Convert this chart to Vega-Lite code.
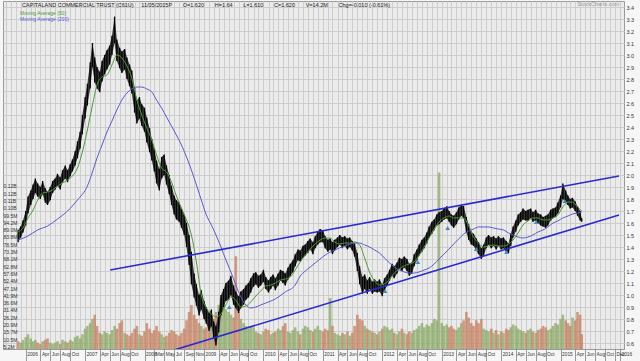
{
  "$schema": "https://vega.github.io/schema/vega-lite/v6.json",
  "width": 621,
  "height": 348,
  "autosize": {"type": "none"},
  "padding": {"left": 3, "top": 1, "right": 16, "bottom": 12},
  "background": "#f6f6f6",
  "config": {
    "view": {"fill": "#ebebeb", "stroke": "#9a9a9a"},
    "font": "Liberation Sans"
  },
  "title": {
    "text": "CAPITALAND COMMERCIAL TRUST (C61U)\u00a0\u00a0\u00a0\u00a0\u00a011/05/2015P\u00a0\u00a0\u00a0\u00a0\u00a0\u00a0\u00a0O=1.620\u00a0\u00a0\u00a0\u00a0\u00a0\u00a0\u00a0H=1.64\u00a0\u00a0\u00a0\u00a0\u00a0\u00a0\u00a0L=1.610\u00a0\u00a0\u00a0\u00a0\u00a0\u00a0\u00a0C=1.620\u00a0\u00a0\u00a0\u00a0\u00a0\u00a0\u00a0V=14.2M\u00a0\u00a0\u00a0\u00a0\u00a0\u00a0\u00a0Chg=-0.010 (-0.61%)",
    "anchor": "start",
    "frame": "group",
    "orient": "top",
    "offset": -2,
    "baseline": "top",
    "dx": 19,
    "dy": 5,
    "fontSize": 5.5,
    "fontWeight": "normal",
    "color": "#222"
  },
  "datasets": {
    "px": [
      {"d":"2005-11-15","h":1.54,"p":1.44,"v":9,"u":0},
      {"d":"2005-12-01","h":1.57,"p":1.48,"v":8,"u":1},
      {"d":"2005-12-15","h":1.62,"p":1.52,"v":10,"u":1},
      {"d":"2006-01-01","h":1.70,"p":1.58,"v":12,"u":1},
      {"d":"2006-01-15","h":1.82,"p":1.68,"v":14,"u":1},
      {"d":"2006-02-01","h":1.87,"p":1.75,"v":11,"u":1},
      {"d":"2006-02-15","h":1.92,"p":1.80,"v":9,"u":1},
      {"d":"2006-03-01","h":1.97,"p":1.85,"v":10,"u":1},
      {"d":"2006-03-15","h":1.93,"p":1.82,"v":8,"u":0},
      {"d":"2006-04-01","h":1.90,"p":1.80,"v":7,"u":0},
      {"d":"2006-04-15","h":1.95,"p":1.84,"v":9,"u":1},
      {"d":"2006-05-01","h":1.89,"p":1.77,"v":10,"u":0},
      {"d":"2006-05-15","h":1.86,"p":1.75,"v":11,"u":0},
      {"d":"2006-06-01","h":1.90,"p":1.79,"v":8,"u":1},
      {"d":"2006-06-15","h":1.95,"p":1.85,"v":7,"u":1},
      {"d":"2006-07-01","h":1.97,"p":1.88,"v":8,"u":1},
      {"d":"2006-07-15","h":2.01,"p":1.91,"v":9,"u":1},
      {"d":"2006-08-01","h":1.98,"p":1.88,"v":7,"u":0},
      {"d":"2006-08-15","h":2.04,"p":1.94,"v":10,"u":1},
      {"d":"2006-09-01","h":2.08,"p":1.97,"v":9,"u":1},
      {"d":"2006-09-15","h":2.04,"p":1.94,"v":8,"u":0},
      {"d":"2006-10-01","h":2.09,"p":1.99,"v":10,"u":1},
      {"d":"2006-10-15","h":2.13,"p":2.03,"v":9,"u":1},
      {"d":"2006-11-01","h":2.20,"p":2.08,"v":12,"u":1},
      {"d":"2006-11-15","h":2.28,"p":2.14,"v":13,"u":1},
      {"d":"2006-12-01","h":2.36,"p":2.22,"v":11,"u":1},
      {"d":"2006-12-15","h":2.50,"p":2.34,"v":14,"u":1},
      {"d":"2007-01-01","h":2.65,"p":2.47,"v":18,"u":1},
      {"d":"2007-01-15","h":2.76,"p":2.58,"v":20,"u":1},
      {"d":"2007-02-01","h":2.94,"p":2.72,"v":22,"u":1},
      {"d":"2007-02-15","h":3.10,"p":2.90,"v":25,"u":1},
      {"d":"2007-03-01","h":2.98,"p":2.77,"v":28,"u":0},
      {"d":"2007-03-15","h":2.90,"p":2.72,"v":20,"u":0},
      {"d":"2007-04-01","h":2.86,"p":2.69,"v":15,"u":0},
      {"d":"2007-04-15","h":2.95,"p":2.78,"v":14,"u":1},
      {"d":"2007-05-01","h":3.00,"p":2.84,"v":16,"u":1},
      {"d":"2007-05-15","h":3.04,"p":2.88,"v":15,"u":1},
      {"d":"2007-06-01","h":3.08,"p":2.92,"v":14,"u":1},
      {"d":"2007-06-15","h":3.16,"p":3.00,"v":17,"u":1},
      {"d":"2007-07-01","h":3.32,"p":3.10,"v":20,"u":1},
      {"d":"2007-07-15","h":3.13,"p":2.95,"v":18,"u":0},
      {"d":"2007-08-01","h":3.06,"p":2.89,"v":22,"u":0},
      {"d":"2007-08-15","h":3.03,"p":2.85,"v":24,"u":0},
      {"d":"2007-09-01","h":3.05,"p":2.88,"v":15,"u":1},
      {"d":"2007-09-15","h":2.98,"p":2.80,"v":14,"u":0},
      {"d":"2007-10-01","h":2.92,"p":2.74,"v":13,"u":0},
      {"d":"2007-10-15","h":2.87,"p":2.68,"v":15,"u":0},
      {"d":"2007-11-01","h":2.73,"p":2.52,"v":18,"u":0},
      {"d":"2007-11-15","h":2.62,"p":2.43,"v":20,"u":0},
      {"d":"2007-12-01","h":2.65,"p":2.47,"v":14,"u":1},
      {"d":"2007-12-15","h":2.59,"p":2.41,"v":13,"u":0},
      {"d":"2008-01-01","h":2.56,"p":2.36,"v":16,"u":0},
      {"d":"2008-01-15","h":2.48,"p":2.27,"v":22,"u":0},
      {"d":"2008-02-01","h":2.39,"p":2.19,"v":18,"u":0},
      {"d":"2008-02-15","h":2.30,"p":2.12,"v":15,"u":0},
      {"d":"2008-03-01","h":2.22,"p":2.03,"v":17,"u":0},
      {"d":"2008-03-15","h":2.12,"p":1.93,"v":20,"u":0},
      {"d":"2008-04-01","h":2.05,"p":1.87,"v":16,"u":0},
      {"d":"2008-04-15","h":2.15,"p":1.97,"v":14,"u":1},
      {"d":"2008-05-01","h":2.17,"p":2.00,"v":12,"u":1},
      {"d":"2008-05-15","h":2.08,"p":1.92,"v":13,"u":0},
      {"d":"2008-06-01","h":2.00,"p":1.84,"v":15,"u":0},
      {"d":"2008-06-15","h":1.91,"p":1.75,"v":17,"u":0},
      {"d":"2008-07-01","h":1.83,"p":1.67,"v":16,"u":0},
      {"d":"2008-07-15","h":1.79,"p":1.63,"v":14,"u":0},
      {"d":"2008-08-01","h":1.77,"p":1.61,"v":13,"u":0},
      {"d":"2008-08-15","h":1.72,"p":1.56,"v":15,"u":0},
      {"d":"2008-09-01","h":1.67,"p":1.50,"v":18,"u":0},
      {"d":"2008-09-15","h":1.60,"p":1.40,"v":24,"u":0},
      {"d":"2008-10-01","h":1.50,"p":1.25,"v":30,"u":0},
      {"d":"2008-10-15","h":1.36,"p":1.09,"v":35,"u":0},
      {"d":"2008-11-01","h":1.18,"p":0.98,"v":28,"u":0},
      {"d":"2008-11-15","h":1.09,"p":0.91,"v":25,"u":0},
      {"d":"2008-12-01","h":1.00,"p":0.83,"v":22,"u":0},
      {"d":"2008-12-15","h":1.04,"p":0.88,"v":20,"u":1},
      {"d":"2009-01-01","h":0.95,"p":0.80,"v":18,"u":0},
      {"d":"2009-01-15","h":0.90,"p":0.76,"v":19,"u":0},
      {"d":"2009-02-01","h":0.85,"p":0.70,"v":22,"u":0},
      {"d":"2009-02-15","h":0.88,"p":0.74,"v":20,"u":1},
      {"d":"2009-03-01","h":0.78,"p":0.64,"v":25,"u":0},
      {"d":"2009-03-15","h":0.74,"p":0.58,"v":30,"u":0},
      {"d":"2009-04-01","h":0.86,"p":0.69,"v":35,"u":1},
      {"d":"2009-04-15","h":1.00,"p":0.83,"v":40,"u":1},
      {"d":"2009-05-01","h":1.05,"p":0.90,"v":38,"u":1},
      {"d":"2009-05-15","h":1.10,"p":0.95,"v":32,"u":1},
      {"d":"2009-06-01","h":1.12,"p":0.96,"v":30,"u":1},
      {"d":"2009-06-15","h":1.16,"p":1.00,"v":28,"u":1},
      {"d":"2009-07-01","h":1.08,"p":0.92,"v":26,"u":0},
      {"d":"2009-07-15","h":1.03,"p":0.89,"v":70,"u":0},
      {"d":"2009-08-01","h":0.99,"p":0.85,"v":30,"u":0},
      {"d":"2009-08-15","h":1.03,"p":0.89,"v":25,"u":1},
      {"d":"2009-09-01","h":1.05,"p":0.92,"v":22,"u":1},
      {"d":"2009-09-15","h":1.08,"p":0.96,"v":20,"u":1},
      {"d":"2009-10-01","h":1.10,"p":0.98,"v":18,"u":1},
      {"d":"2009-10-15","h":1.14,"p":1.02,"v":20,"u":1},
      {"d":"2009-11-01","h":1.18,"p":1.07,"v":19,"u":1},
      {"d":"2009-11-15","h":1.19,"p":1.09,"v":16,"u":1},
      {"d":"2009-12-01","h":1.16,"p":1.06,"v":15,"u":0},
      {"d":"2009-12-15","h":1.17,"p":1.08,"v":14,"u":1},
      {"d":"2010-01-01","h":1.21,"p":1.11,"v":16,"u":1},
      {"d":"2010-01-15","h":1.15,"p":1.05,"v":18,"u":0},
      {"d":"2010-02-01","h":1.12,"p":1.02,"v":17,"u":0},
      {"d":"2010-02-15","h":1.15,"p":1.05,"v":14,"u":1},
      {"d":"2010-03-01","h":1.17,"p":1.08,"v":15,"u":1},
      {"d":"2010-03-15","h":1.14,"p":1.04,"v":16,"u":0},
      {"d":"2010-04-01","h":1.18,"p":1.08,"v":18,"u":1},
      {"d":"2010-04-15","h":1.21,"p":1.12,"v":17,"u":1},
      {"d":"2010-05-01","h":1.20,"p":1.10,"v":20,"u":0},
      {"d":"2010-05-15","h":1.18,"p":1.08,"v":22,"u":0},
      {"d":"2010-06-01","h":1.23,"p":1.13,"v":16,"u":1},
      {"d":"2010-06-15","h":1.26,"p":1.16,"v":15,"u":1},
      {"d":"2010-07-01","h":1.29,"p":1.19,"v":17,"u":1},
      {"d":"2010-07-15","h":1.34,"p":1.24,"v":19,"u":1},
      {"d":"2010-08-01","h":1.38,"p":1.29,"v":16,"u":1},
      {"d":"2010-08-15","h":1.37,"p":1.28,"v":14,"u":0},
      {"d":"2010-09-01","h":1.41,"p":1.31,"v":18,"u":1},
      {"d":"2010-09-15","h":1.42,"p":1.33,"v":20,"u":1},
      {"d":"2010-10-01","h":1.45,"p":1.35,"v":19,"u":1},
      {"d":"2010-10-15","h":1.47,"p":1.38,"v":17,"u":1},
      {"d":"2010-11-01","h":1.44,"p":1.34,"v":16,"u":0},
      {"d":"2010-11-15","h":1.49,"p":1.39,"v":18,"u":1},
      {"d":"2010-12-01","h":1.53,"p":1.42,"v":20,"u":1},
      {"d":"2010-12-15","h":1.55,"p":1.44,"v":17,"u":1},
      {"d":"2011-01-01","h":1.54,"p":1.44,"v":16,"u":0},
      {"d":"2011-01-15","h":1.49,"p":1.39,"v":18,"u":0},
      {"d":"2011-02-01","h":1.46,"p":1.36,"v":17,"u":0},
      {"d":"2011-02-15","h":1.47,"p":1.38,"v":40,"u":1},
      {"d":"2011-03-01","h":1.44,"p":1.34,"v":20,"u":0},
      {"d":"2011-03-15","h":1.46,"p":1.37,"v":15,"u":1},
      {"d":"2011-04-01","h":1.48,"p":1.40,"v":14,"u":1},
      {"d":"2011-04-15","h":1.50,"p":1.42,"v":13,"u":1},
      {"d":"2011-05-01","h":1.48,"p":1.39,"v":15,"u":0},
      {"d":"2011-05-15","h":1.49,"p":1.41,"v":14,"u":1},
      {"d":"2011-06-01","h":1.47,"p":1.38,"v":16,"u":0},
      {"d":"2011-06-15","h":1.48,"p":1.40,"v":13,"u":1},
      {"d":"2011-07-01","h":1.45,"p":1.37,"v":15,"u":0},
      {"d":"2011-07-15","h":1.43,"p":1.32,"v":20,"u":0},
      {"d":"2011-08-01","h":1.35,"p":1.20,"v":28,"u":0},
      {"d":"2011-08-15","h":1.24,"p":1.09,"v":25,"u":0},
      {"d":"2011-09-01","h":1.15,"p":1.01,"v":24,"u":0},
      {"d":"2011-09-15","h":1.17,"p":1.05,"v":20,"u":1},
      {"d":"2011-10-01","h":1.12,"p":1.01,"v":18,"u":0},
      {"d":"2011-10-15","h":1.15,"p":1.05,"v":17,"u":1},
      {"d":"2011-11-01","h":1.11,"p":1.01,"v":16,"u":0},
      {"d":"2011-11-15","h":1.13,"p":1.03,"v":15,"u":1},
      {"d":"2011-12-01","h":1.11,"p":1.02,"v":14,"u":0},
      {"d":"2011-12-15","h":1.13,"p":1.03,"v":16,"u":1},
      {"d":"2012-01-01","h":1.09,"p":0.99,"v":18,"u":0},
      {"d":"2012-01-15","h":1.14,"p":1.04,"v":20,"u":1},
      {"d":"2012-02-01","h":1.17,"p":1.08,"v":19,"u":1},
      {"d":"2012-02-15","h":1.21,"p":1.12,"v":17,"u":1},
      {"d":"2012-03-01","h":1.26,"p":1.16,"v":18,"u":1},
      {"d":"2012-03-15","h":1.24,"p":1.14,"v":15,"u":0},
      {"d":"2012-04-01","h":1.27,"p":1.18,"v":14,"u":1},
      {"d":"2012-04-15","h":1.31,"p":1.22,"v":16,"u":1},
      {"d":"2012-05-01","h":1.30,"p":1.20,"v":18,"u":0},
      {"d":"2012-05-15","h":1.32,"p":1.23,"v":15,"u":1},
      {"d":"2012-06-01","h":1.30,"p":1.20,"v":14,"u":0},
      {"d":"2012-06-15","h":1.26,"p":1.16,"v":16,"u":0},
      {"d":"2012-07-01","h":1.27,"p":1.18,"v":15,"u":1},
      {"d":"2012-07-15","h":1.34,"p":1.24,"v":17,"u":1},
      {"d":"2012-08-01","h":1.38,"p":1.29,"v":18,"u":1},
      {"d":"2012-08-15","h":1.42,"p":1.33,"v":20,"u":1},
      {"d":"2012-09-01","h":1.46,"p":1.36,"v":22,"u":1},
      {"d":"2012-09-15","h":1.48,"p":1.39,"v":19,"u":1},
      {"d":"2012-10-01","h":1.52,"p":1.43,"v":21,"u":1},
      {"d":"2012-10-15","h":1.57,"p":1.48,"v":20,"u":1},
      {"d":"2012-11-01","h":1.61,"p":1.51,"v":22,"u":1},
      {"d":"2012-11-15","h":1.63,"p":1.54,"v":25,"u":1},
      {"d":"2012-12-01","h":1.67,"p":1.58,"v":24,"u":1},
      {"d":"2012-12-15","h":1.69,"p":1.59,"v":130,"u":1},
      {"d":"2013-01-01","h":1.70,"p":1.61,"v":22,"u":1},
      {"d":"2013-01-15","h":1.72,"p":1.63,"v":20,"u":1},
      {"d":"2013-02-01","h":1.74,"p":1.64,"v":21,"u":1},
      {"d":"2013-02-15","h":1.70,"p":1.61,"v":19,"u":0},
      {"d":"2013-03-01","h":1.67,"p":1.58,"v":20,"u":0},
      {"d":"2013-03-15","h":1.66,"p":1.56,"v":18,"u":0},
      {"d":"2013-04-01","h":1.69,"p":1.59,"v":17,"u":1},
      {"d":"2013-04-15","h":1.73,"p":1.63,"v":19,"u":1},
      {"d":"2013-05-01","h":1.75,"p":1.66,"v":22,"u":1},
      {"d":"2013-05-15","h":1.74,"p":1.64,"v":24,"u":0},
      {"d":"2013-06-01","h":1.65,"p":1.52,"v":30,"u":0},
      {"d":"2013-06-15","h":1.59,"p":1.46,"v":26,"u":0},
      {"d":"2013-07-01","h":1.53,"p":1.42,"v":22,"u":0},
      {"d":"2013-07-15","h":1.51,"p":1.41,"v":20,"u":0},
      {"d":"2013-08-01","h":1.47,"p":1.37,"v":24,"u":0},
      {"d":"2013-08-15","h":1.44,"p":1.34,"v":22,"u":0},
      {"d":"2013-09-01","h":1.39,"p":1.30,"v":25,"u":0},
      {"d":"2013-09-15","h":1.42,"p":1.33,"v":18,"u":1},
      {"d":"2013-10-01","h":1.48,"p":1.39,"v":17,"u":1},
      {"d":"2013-10-15","h":1.50,"p":1.42,"v":16,"u":1},
      {"d":"2013-11-01","h":1.48,"p":1.39,"v":18,"u":0},
      {"d":"2013-11-15","h":1.49,"p":1.41,"v":15,"u":1},
      {"d":"2013-12-01","h":1.47,"p":1.38,"v":17,"u":0},
      {"d":"2013-12-15","h":1.49,"p":1.41,"v":14,"u":1},
      {"d":"2014-01-01","h":1.47,"p":1.38,"v":16,"u":0},
      {"d":"2014-01-15","h":1.48,"p":1.39,"v":15,"u":1},
      {"d":"2014-02-01","h":1.45,"p":1.36,"v":18,"u":0},
      {"d":"2014-02-15","h":1.43,"p":1.35,"v":17,"u":0},
      {"d":"2014-03-01","h":1.51,"p":1.41,"v":19,"u":1},
      {"d":"2014-03-15","h":1.57,"p":1.48,"v":21,"u":1},
      {"d":"2014-04-01","h":1.62,"p":1.53,"v":20,"u":1},
      {"d":"2014-04-15","h":1.67,"p":1.58,"v":18,"u":1},
      {"d":"2014-05-01","h":1.69,"p":1.61,"v":17,"u":1},
      {"d":"2014-05-15","h":1.72,"p":1.63,"v":16,"u":1},
      {"d":"2014-06-01","h":1.70,"p":1.62,"v":15,"u":0},
      {"d":"2014-06-15","h":1.71,"p":1.62,"v":17,"u":1},
      {"d":"2014-07-01","h":1.72,"p":1.64,"v":18,"u":1},
      {"d":"2014-07-15","h":1.69,"p":1.61,"v":16,"u":0},
      {"d":"2014-08-01","h":1.71,"p":1.62,"v":15,"u":1},
      {"d":"2014-08-15","h":1.68,"p":1.60,"v":17,"u":0},
      {"d":"2014-09-01","h":1.67,"p":1.58,"v":18,"u":0},
      {"d":"2014-09-15","h":1.65,"p":1.57,"v":20,"u":0},
      {"d":"2014-10-01","h":1.66,"p":1.56,"v":19,"u":0},
      {"d":"2014-10-15","h":1.67,"p":1.58,"v":17,"u":1},
      {"d":"2014-11-01","h":1.71,"p":1.62,"v":18,"u":1},
      {"d":"2014-11-15","h":1.72,"p":1.64,"v":20,"u":1},
      {"d":"2014-12-01","h":1.73,"p":1.65,"v":22,"u":1},
      {"d":"2014-12-15","h":1.77,"p":1.68,"v":21,"u":1},
      {"d":"2015-01-01","h":1.83,"p":1.73,"v":25,"u":1},
      {"d":"2015-01-15","h":1.93,"p":1.80,"v":28,"u":1},
      {"d":"2015-02-01","h":1.87,"p":1.77,"v":24,"u":0},
      {"d":"2015-02-15","h":1.83,"p":1.75,"v":22,"u":0},
      {"d":"2015-03-01","h":1.80,"p":1.72,"v":20,"u":0},
      {"d":"2015-03-15","h":1.81,"p":1.73,"v":26,"u":1},
      {"d":"2015-04-01","h":1.78,"p":1.70,"v":24,"u":0},
      {"d":"2015-04-15","h":1.74,"p":1.66,"v":30,"u":0},
      {"d":"2015-05-01","h":1.70,"p":1.62,"v":28,"u":0},
      {"d":"2015-05-11","h":1.64,"p":1.61,"v":14,"u":0}
    ],
    "ma": [
      {"d":"2005-11-15","s":"Moving Average (50)","p":1.525},
      {"d":"2005-12-15","s":"Moving Average (50)","p":1.558},
      {"d":"2006-01-15","s":"Moving Average (50)","p":1.642},
      {"d":"2006-02-15","s":"Moving Average (50)","p":1.708},
      {"d":"2006-03-15","s":"Moving Average (50)","p":1.79},
      {"d":"2006-04-15","s":"Moving Average (50)","p":1.85},
      {"d":"2006-05-15","s":"Moving Average (50)","p":1.858},
      {"d":"2006-06-15","s":"Moving Average (50)","p":1.875},
      {"d":"2006-07-15","s":"Moving Average (50)","p":1.908},
      {"d":"2006-08-15","s":"Moving Average (50)","p":1.933},
      {"d":"2006-09-15","s":"Moving Average (50)","p":1.958},
      {"d":"2006-10-15","s":"Moving Average (50)","p":1.992},
      {"d":"2006-11-15","s":"Moving Average (50)","p":2.058},
      {"d":"2006-12-15","s":"Moving Average (50)","p":2.192},
      {"d":"2007-01-15","s":"Moving Average (50)","p":2.375},
      {"d":"2007-02-15","s":"Moving Average (50)","p":2.583},
      {"d":"2007-03-15","s":"Moving Average (50)","p":2.75},
      {"d":"2007-04-15","s":"Moving Average (50)","p":2.817},
      {"d":"2007-05-15","s":"Moving Average (50)","p":2.833},
      {"d":"2007-06-15","s":"Moving Average (50)","p":2.917},
      {"d":"2007-07-15","s":"Moving Average (50)","p":3.0},
      {"d":"2007-08-15","s":"Moving Average (50)","p":2.975},
      {"d":"2007-09-15","s":"Moving Average (50)","p":2.908},
      {"d":"2007-10-15","s":"Moving Average (50)","p":2.808},
      {"d":"2007-11-15","s":"Moving Average (50)","p":2.625},
      {"d":"2007-12-15","s":"Moving Average (50)","p":2.5},
      {"d":"2008-01-15","s":"Moving Average (50)","p":2.392},
      {"d":"2008-02-15","s":"Moving Average (50)","p":2.292},
      {"d":"2008-03-15","s":"Moving Average (50)","p":2.167},
      {"d":"2008-04-15","s":"Moving Average (50)","p":2.058},
      {"d":"2008-05-15","s":"Moving Average (50)","p":2.025},
      {"d":"2008-06-15","s":"Moving Average (50)","p":1.942},
      {"d":"2008-07-15","s":"Moving Average (50)","p":1.825},
      {"d":"2008-08-15","s":"Moving Average (50)","p":1.725},
      {"d":"2008-09-15","s":"Moving Average (50)","p":1.625},
      {"d":"2008-10-15","s":"Moving Average (50)","p":1.5},
      {"d":"2008-11-15","s":"Moving Average (50)","p":1.275},
      {"d":"2008-12-15","s":"Moving Average (50)","p":1.0},
      {"d":"2009-01-15","s":"Moving Average (50)","p":0.892},
      {"d":"2009-02-15","s":"Moving Average (50)","p":0.842},
      {"d":"2009-03-15","s":"Moving Average (50)","p":0.817},
      {"d":"2009-04-15","s":"Moving Average (50)","p":0.842},
      {"d":"2009-05-15","s":"Moving Average (50)","p":0.917},
      {"d":"2009-06-15","s":"Moving Average (50)","p":0.983},
      {"d":"2009-07-15","s":"Moving Average (50)","p":0.958},
      {"d":"2009-08-15","s":"Moving Average (50)","p":0.9},
      {"d":"2009-09-15","s":"Moving Average (50)","p":0.908},
      {"d":"2009-10-15","s":"Moving Average (50)","p":0.942},
      {"d":"2009-11-15","s":"Moving Average (50)","p":0.992},
      {"d":"2009-12-15","s":"Moving Average (50)","p":1.033},
      {"d":"2010-01-15","s":"Moving Average (50)","p":1.075},
      {"d":"2010-02-15","s":"Moving Average (50)","p":1.083},
      {"d":"2010-03-15","s":"Moving Average (50)","p":1.1},
      {"d":"2010-04-15","s":"Moving Average (50)","p":1.125},
      {"d":"2010-05-15","s":"Moving Average (50)","p":1.133},
      {"d":"2010-06-15","s":"Moving Average (50)","p":1.15},
      {"d":"2010-07-15","s":"Moving Average (50)","p":1.208},
      {"d":"2010-08-15","s":"Moving Average (50)","p":1.275},
      {"d":"2010-09-15","s":"Moving Average (50)","p":1.333},
      {"d":"2010-10-15","s":"Moving Average (50)","p":1.383},
      {"d":"2010-11-15","s":"Moving Average (50)","p":1.425},
      {"d":"2010-12-15","s":"Moving Average (50)","p":1.458},
      {"d":"2011-01-15","s":"Moving Average (50)","p":1.475},
      {"d":"2011-02-15","s":"Moving Average (50)","p":1.475},
      {"d":"2011-03-15","s":"Moving Average (50)","p":1.442},
      {"d":"2011-04-15","s":"Moving Average (50)","p":1.425},
      {"d":"2011-05-15","s":"Moving Average (50)","p":1.433},
      {"d":"2011-06-15","s":"Moving Average (50)","p":1.433},
      {"d":"2011-07-15","s":"Moving Average (50)","p":1.442},
      {"d":"2011-08-15","s":"Moving Average (50)","p":1.417},
      {"d":"2011-09-15","s":"Moving Average (50)","p":1.308},
      {"d":"2011-10-15","s":"Moving Average (50)","p":1.192},
      {"d":"2011-11-15","s":"Moving Average (50)","p":1.117},
      {"d":"2011-12-15","s":"Moving Average (50)","p":1.083},
      {"d":"2012-01-15","s":"Moving Average (50)","p":1.092},
      {"d":"2012-02-15","s":"Moving Average (50)","p":1.133},
      {"d":"2012-03-15","s":"Moving Average (50)","p":1.183},
      {"d":"2012-04-15","s":"Moving Average (50)","p":1.217},
      {"d":"2012-05-15","s":"Moving Average (50)","p":1.242},
      {"d":"2012-06-15","s":"Moving Average (50)","p":1.258},
      {"d":"2012-07-15","s":"Moving Average (50)","p":1.275},
      {"d":"2012-08-15","s":"Moving Average (50)","p":1.333},
      {"d":"2012-09-15","s":"Moving Average (50)","p":1.4},
      {"d":"2012-10-15","s":"Moving Average (50)","p":1.475},
      {"d":"2012-11-15","s":"Moving Average (50)","p":1.55},
      {"d":"2012-12-15","s":"Moving Average (50)","p":1.608},
      {"d":"2013-01-15","s":"Moving Average (50)","p":1.642},
      {"d":"2013-02-15","s":"Moving Average (50)","p":1.658},
      {"d":"2013-03-15","s":"Moving Average (50)","p":1.642},
      {"d":"2013-04-15","s":"Moving Average (50)","p":1.642},
      {"d":"2013-05-15","s":"Moving Average (50)","p":1.642},
      {"d":"2013-06-15","s":"Moving Average (50)","p":1.575},
      {"d":"2013-07-15","s":"Moving Average (50)","p":1.483},
      {"d":"2013-08-15","s":"Moving Average (50)","p":1.433},
      {"d":"2013-09-15","s":"Moving Average (50)","p":1.4},
      {"d":"2013-10-15","s":"Moving Average (50)","p":1.408},
      {"d":"2013-11-15","s":"Moving Average (50)","p":1.417},
      {"d":"2013-12-15","s":"Moving Average (50)","p":1.408},
      {"d":"2014-01-15","s":"Moving Average (50)","p":1.408},
      {"d":"2014-02-15","s":"Moving Average (50)","p":1.425},
      {"d":"2014-03-15","s":"Moving Average (50)","p":1.458},
      {"d":"2014-04-15","s":"Moving Average (50)","p":1.517},
      {"d":"2014-05-15","s":"Moving Average (50)","p":1.583},
      {"d":"2014-06-15","s":"Moving Average (50)","p":1.617},
      {"d":"2014-07-15","s":"Moving Average (50)","p":1.642},
      {"d":"2014-08-15","s":"Moving Average (50)","p":1.642},
      {"d":"2014-09-15","s":"Moving Average (50)","p":1.625},
      {"d":"2014-10-15","s":"Moving Average (50)","p":1.625},
      {"d":"2014-11-15","s":"Moving Average (50)","p":1.642},
      {"d":"2014-12-15","s":"Moving Average (50)","p":1.667},
      {"d":"2015-01-15","s":"Moving Average (50)","p":1.733},
      {"d":"2015-02-15","s":"Moving Average (50)","p":1.775},
      {"d":"2015-03-15","s":"Moving Average (50)","p":1.775},
      {"d":"2015-04-15","s":"Moving Average (50)","p":1.733},
      {"d":"2015-05-11","s":"Moving Average (50)","p":1.70},
      {"d":"2005-11-15","s":"Moving Average (200)","p":1.458},
      {"d":"2006-01-15","s":"Moving Average (200)","p":1.492},
      {"d":"2006-03-15","s":"Moving Average (200)","p":1.542},
      {"d":"2006-05-15","s":"Moving Average (200)","p":1.575},
      {"d":"2006-07-15","s":"Moving Average (200)","p":1.633},
      {"d":"2006-09-15","s":"Moving Average (200)","p":1.7},
      {"d":"2006-11-15","s":"Moving Average (200)","p":1.792},
      {"d":"2007-01-15","s":"Moving Average (200)","p":1.908},
      {"d":"2007-02-15","s":"Moving Average (200)","p":2.025},
      {"d":"2007-03-15","s":"Moving Average (200)","p":2.142},
      {"d":"2007-04-15","s":"Moving Average (200)","p":2.25},
      {"d":"2007-05-15","s":"Moving Average (200)","p":2.358},
      {"d":"2007-06-15","s":"Moving Average (200)","p":2.45},
      {"d":"2007-07-15","s":"Moving Average (200)","p":2.542},
      {"d":"2007-08-15","s":"Moving Average (200)","p":2.625},
      {"d":"2007-09-15","s":"Moving Average (200)","p":2.683},
      {"d":"2007-10-15","s":"Moving Average (200)","p":2.717},
      {"d":"2007-11-15","s":"Moving Average (200)","p":2.733},
      {"d":"2007-12-15","s":"Moving Average (200)","p":2.733},
      {"d":"2008-01-15","s":"Moving Average (200)","p":2.717},
      {"d":"2008-02-15","s":"Moving Average (200)","p":2.692},
      {"d":"2008-03-15","s":"Moving Average (200)","p":2.625},
      {"d":"2008-04-15","s":"Moving Average (200)","p":2.558},
      {"d":"2008-05-15","s":"Moving Average (200)","p":2.483},
      {"d":"2008-06-15","s":"Moving Average (200)","p":2.408},
      {"d":"2008-07-15","s":"Moving Average (200)","p":2.333},
      {"d":"2008-08-15","s":"Moving Average (200)","p":2.25},
      {"d":"2008-09-15","s":"Moving Average (200)","p":2.15},
      {"d":"2008-10-15","s":"Moving Average (200)","p":2.042},
      {"d":"2008-11-15","s":"Moving Average (200)","p":1.917},
      {"d":"2008-12-15","s":"Moving Average (200)","p":1.792},
      {"d":"2009-01-15","s":"Moving Average (200)","p":1.667},
      {"d":"2009-02-15","s":"Moving Average (200)","p":1.583},
      {"d":"2009-03-15","s":"Moving Average (200)","p":1.5},
      {"d":"2009-04-15","s":"Moving Average (200)","p":1.4},
      {"d":"2009-05-15","s":"Moving Average (200)","p":1.292},
      {"d":"2009-06-15","s":"Moving Average (200)","p":1.192},
      {"d":"2009-07-15","s":"Moving Average (200)","p":1.083},
      {"d":"2009-08-15","s":"Moving Average (200)","p":0.983},
      {"d":"2009-09-15","s":"Moving Average (200)","p":0.917},
      {"d":"2009-10-15","s":"Moving Average (200)","p":0.892},
      {"d":"2009-11-15","s":"Moving Average (200)","p":0.9},
      {"d":"2009-12-15","s":"Moving Average (200)","p":0.917},
      {"d":"2010-01-15","s":"Moving Average (200)","p":0.933},
      {"d":"2010-03-15","s":"Moving Average (200)","p":0.967},
      {"d":"2010-05-15","s":"Moving Average (200)","p":1.025},
      {"d":"2010-07-15","s":"Moving Average (200)","p":1.083},
      {"d":"2010-08-15","s":"Moving Average (200)","p":1.158},
      {"d":"2010-09-15","s":"Moving Average (200)","p":1.2},
      {"d":"2010-10-15","s":"Moving Average (200)","p":1.233},
      {"d":"2010-11-15","s":"Moving Average (200)","p":1.267},
      {"d":"2010-12-15","s":"Moving Average (200)","p":1.3},
      {"d":"2011-01-15","s":"Moving Average (200)","p":1.333},
      {"d":"2011-03-15","s":"Moving Average (200)","p":1.375},
      {"d":"2011-05-15","s":"Moving Average (200)","p":1.408},
      {"d":"2011-07-15","s":"Moving Average (200)","p":1.433},
      {"d":"2011-08-15","s":"Moving Average (200)","p":1.433},
      {"d":"2011-09-15","s":"Moving Average (200)","p":1.417},
      {"d":"2011-10-15","s":"Moving Average (200)","p":1.4},
      {"d":"2011-11-15","s":"Moving Average (200)","p":1.375},
      {"d":"2011-12-15","s":"Moving Average (200)","p":1.35},
      {"d":"2012-01-15","s":"Moving Average (200)","p":1.308},
      {"d":"2012-02-15","s":"Moving Average (200)","p":1.267},
      {"d":"2012-03-15","s":"Moving Average (200)","p":1.233},
      {"d":"2012-04-15","s":"Moving Average (200)","p":1.208},
      {"d":"2012-05-15","s":"Moving Average (200)","p":1.192},
      {"d":"2012-06-15","s":"Moving Average (200)","p":1.183},
      {"d":"2012-07-15","s":"Moving Average (200)","p":1.183},
      {"d":"2012-08-15","s":"Moving Average (200)","p":1.192},
      {"d":"2012-09-15","s":"Moving Average (200)","p":1.208},
      {"d":"2012-10-15","s":"Moving Average (200)","p":1.225},
      {"d":"2012-11-15","s":"Moving Average (200)","p":1.258},
      {"d":"2012-12-15","s":"Moving Average (200)","p":1.3},
      {"d":"2013-01-15","s":"Moving Average (200)","p":1.342},
      {"d":"2013-02-15","s":"Moving Average (200)","p":1.383},
      {"d":"2013-03-15","s":"Moving Average (200)","p":1.425},
      {"d":"2013-04-15","s":"Moving Average (200)","p":1.467},
      {"d":"2013-05-15","s":"Moving Average (200)","p":1.508},
      {"d":"2013-06-15","s":"Moving Average (200)","p":1.533},
      {"d":"2013-07-15","s":"Moving Average (200)","p":1.55},
      {"d":"2013-08-15","s":"Moving Average (200)","p":1.567},
      {"d":"2013-09-15","s":"Moving Average (200)","p":1.567},
      {"d":"2013-10-15","s":"Moving Average (200)","p":1.567},
      {"d":"2013-11-15","s":"Moving Average (200)","p":1.558},
      {"d":"2013-12-15","s":"Moving Average (200)","p":1.55},
      {"d":"2014-01-15","s":"Moving Average (200)","p":1.542},
      {"d":"2014-02-15","s":"Moving Average (200)","p":1.517},
      {"d":"2014-03-15","s":"Moving Average (200)","p":1.5},
      {"d":"2014-04-15","s":"Moving Average (200)","p":1.483},
      {"d":"2014-05-15","s":"Moving Average (200)","p":1.475},
      {"d":"2014-06-15","s":"Moving Average (200)","p":1.483},
      {"d":"2014-07-15","s":"Moving Average (200)","p":1.5},
      {"d":"2014-08-15","s":"Moving Average (200)","p":1.525},
      {"d":"2014-09-15","s":"Moving Average (200)","p":1.542},
      {"d":"2014-10-15","s":"Moving Average (200)","p":1.567},
      {"d":"2014-11-15","s":"Moving Average (200)","p":1.6},
      {"d":"2014-12-15","s":"Moving Average (200)","p":1.617},
      {"d":"2015-01-15","s":"Moving Average (200)","p":1.642},
      {"d":"2015-02-15","s":"Moving Average (200)","p":1.658},
      {"d":"2015-03-15","s":"Moving Average (200)","p":1.675},
      {"d":"2015-04-15","s":"Moving Average (200)","p":1.683},
      {"d":"2015-05-11","s":"Moving Average (200)","p":1.692}
    ],
    "tl": [
      {"d":"2007-06-04","k":"upper","p":1.208},
      {"d":"2015-12-26","k":"upper","p":1.992},
      {"d":"2008-07-01","k":"lower","p":0.542},
      {"d":"2015-12-26","k":"lower","p":1.667}
    ],
    "mk": [
      {"d":"2009-06-05","p":0.90},
      {"d":"2012-01-18","p":1.033},
      {"d":"2012-08-07","p":1.275},
      {"d":"2013-02-06","p":1.558},
      {"d":"2013-07-31","p":1.383},
      {"d":"2014-02-03","p":1.358},
      {"d":"2014-08-04","p":1.608},
      {"d":"2015-01-27","p":1.783}
    ],
    "wm": [{"d":"2015-08-20","p":3.425,"t":"StockCharts.com"}]
  },
  "encoding": {
    "x": {
      "field": "d", "type": "temporal",
      "scale": {"domain": [{"year": 2005, "month": 9, "date": 14}, {"year": 2015, "month": 12, "date": 26}]},
      "axis": {
        "orient": "bottom", "title": null,
        "grid": true, "gridColor": "#cdcdcd", "gridWidth": 1,
        "tickCount": {"interval": "month", "step": 1},
        "labelExpr": "year(datum.value) < 2006 ? '' : (month(datum.value) == 0 ? timeFormat(datum.value, '%Y') : ((year(datum.value) == 2008 ? month(datum.value) % 2 == 0 : (indexof([3,5,7,9], month(datum.value)) >= 0 || (month(datum.value) == 11 && year(datum.value) == 2015))) ? timeFormat(datum.value, '%b') : ''))",
        "labelOverlap": false, "labelFlush": false, "labelBound": false,
        "labelAlign": "left", "labelBaseline": "top", "labelPadding": -10, "labelOffset": 1,
        "labelFontSize": 4.8, "labelColor": "#333",
        "tickSize": 12, "tickColor": "#999",
        "tickOpacity": {"condition": {"test": "year(datum.value) >= 2006 && (month(datum.value) == 0 || (year(datum.value) == 2008 ? month(datum.value) % 2 == 0 : (indexof([3,5,7,9], month(datum.value)) >= 0 || (month(datum.value) == 11 && year(datum.value) == 2015))))", "value": 1}, "value": 0},
        "domainColor": "#999"
      }
    }
  },
  "layer": [
    {
      "data": {"name": "px"},
      "mark": {"type": "bar", "size": 2.6, "clip": true, "opacity": 0.75},
      "encoding": {
        "y": {
          "field": "v", "type": "quantitative",
          "scale": {"domain": [3.44, 253], "zero": false, "nice": false},
          "axis": {
            "orient": "left", "title": null,
            "values": [5.235, 10.47, 15.705, 20.94, 26.175, 31.41, 36.645, 41.88, 47.115, 52.35, 57.585, 62.82, 68.055, 73.29, 78.525, 83.76, 88.995, 94.23, 99.465, 104.7, 109.935, 115.17, 120.405],
            "labelExpr": "datum.value >= 100 ? format(datum.value / 1000, '.2f') + 'B' : format(datum.value, '.1f') + 'M'",
            "grid": false, "ticks": false, "tickSize": 0, "domain": false,
            "labelAlign": "left", "labelPadding": 0, "labelFontSize": 5, "labelColor": "#333"
          }
        },
        "color": {"condition": {"test": "datum.u == 1", "value": "#8aa864"}, "value": "#c47d5c"}
      }
    },
    {
      "encoding": {
        "y": {
          "field": "p", "type": "quantitative",
          "scale": {"domain": [0.55, 3.45], "zero": false, "nice": false},
          "axis": {
            "orient": "right", "title": null,
            "values": [0.6, 0.7, 0.8, 0.9, 1.0, 1.1, 1.2, 1.3, 1.4, 1.5, 1.6, 1.7, 1.8, 1.9, 2.0, 2.1, 2.2, 2.3, 2.4, 2.5, 2.6, 2.7, 2.8, 2.9, 3.0, 3.1, 3.2, 3.3, 3.4],
            "format": ".1f", "grid": true, "gridColor": "#cdcdcd", "gridWidth": 1,
            "ticks": false, "domain": false, "labelPadding": 2, "labelFontSize": 5.5, "labelColor": "#333"
          }
        }
      },
      "layer": [
        {
          "data": {"name": "px"},
          "mark": {"type": "area", "color": "#262626", "opacity": 0.9, "clip": true},
          "encoding": {"y2": {"field": "h"}}
        },
        {
          "data": {"name": "px"},
          "mark": {"type": "rule", "strokeWidth": 1.3, "color": "#000", "clip": true},
          "encoding": {"y2": {"field": "h"}}
        },
        {
          "data": {"name": "ma"},
          "mark": {"type": "line", "strokeWidth": 1, "interpolate": "monotone", "clip": true},
          "encoding": {
            "color": {
              "field": "s", "type": "nominal",
              "scale": {"domain": ["Moving Average (50)", "Moving Average (200)"], "range": ["#4f9a35", "#5a5ad0"]},
              "legend": {
                "orient": "none", "legendX": 12, "legendY": 9, "title": null,
                "labelFontSize": 5, "symbolSize": 0, "symbolStrokeWidth": 0, "symbolType": "stroke",
                "rowPadding": 0.5, "labelOffset": 0, "padding": 0,
                "encode": {"labels": {"update": {"fill": {"scale": "color", "field": "value"}}}}
              }
            }
          }
        },
        {
          "data": {"name": "tl"},
          "mark": {"type": "line", "strokeWidth": 1.6, "color": "#2a2ad2", "clip": true},
          "encoding": {"detail": {"field": "k"}}
        },
        {
          "data": {"name": "mk"},
          "mark": {"type": "point", "shape": "triangle-up", "filled": true, "size": 22, "color": "#3f8cc4", "opacity": 1, "clip": true},
          "encoding": {}
        },
        {
          "data": {"name": "wm"},
          "mark": {"type": "text", "fontSize": 5.5, "color": "#9a9a9a", "align": "center", "baseline": "middle"},
          "encoding": {"text": {"field": "t"}}
        }
      ]
    }
  ],
  "resolve": {"scale": {"y": "independent"}}
}
